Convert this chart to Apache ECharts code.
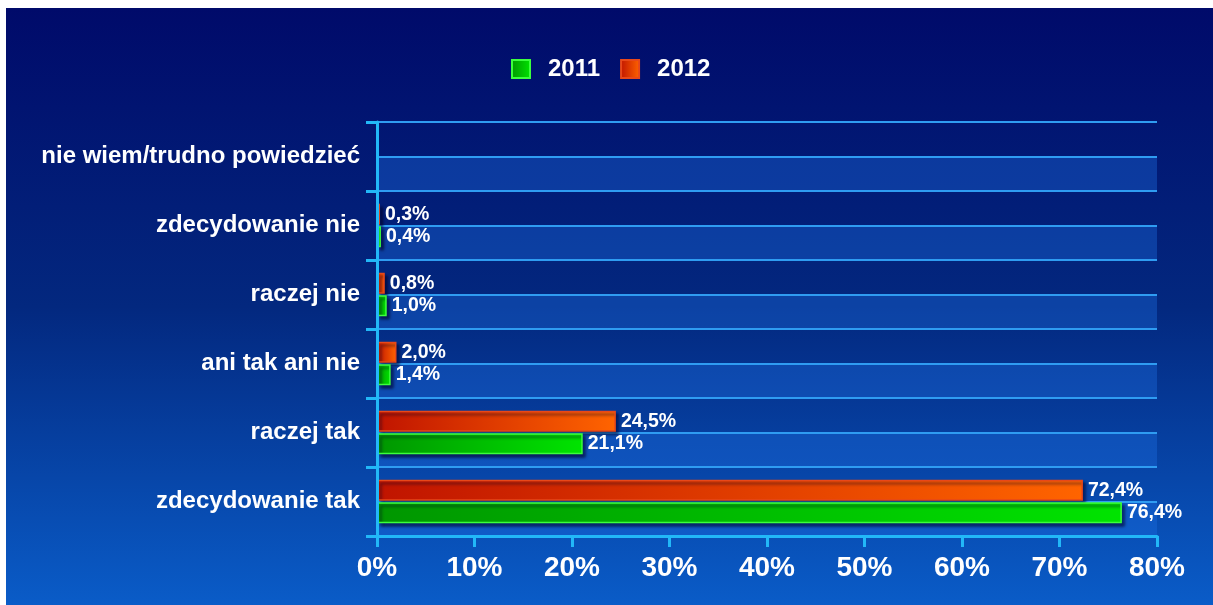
<!DOCTYPE html>
<html>
<head>
<meta charset="utf-8">
<script src="https://cdn.jsdelivr.net/npm/echarts@6/dist/echarts.min.js"></script>
<style>
html,body{margin:0;padding:0;background:#ffffff;}
#chart{width:1213px;height:605px;}
</style>
</head>
<body>
<div id="chart"></div>
<script>
// Data (bottom to top, as drawn on the category axis)
const categories = ['zdecydowanie tak', 'raczej tak', 'ani tak ani nie', 'raczej nie', 'zdecydowanie nie', 'nie wiem/trudno powiedzieć'];
const values2011 = [76.4, 21.1, 1.4, 1.0, 0.4, null];
const values2012 = [72.4, 24.5, 2.0, 0.8, 0.3, null];
const seriesNames = ['2011', '2012'];
const halfBands = ['', '', '', '', '', '', '', '', '', '', '', ''];

const chart = echarts.init(document.getElementById('chart'), null, {renderer: 'canvas'});
const FONT = '"Liberation Sans", Arial, sans-serif';

function lbl(p) {
  if (p.value == null) return '';
  return p.value.toFixed(1).replace('.', ',') + '%';
}

const greenFill = new echarts.graphic.LinearGradient(0, 0, 1, 0, [
  {offset: 0, color: '#009600'}, {offset: 1, color: '#00e400'}
]);
const redFill = new echarts.graphic.LinearGradient(0, 0, 1, 0, [
  {offset: 0, color: '#c01400'}, {offset: 1, color: '#ff6400'}
]);

const labelStyle = {show: true, position: 'right', distance: 5, formatter: lbl,
  color: '#ffffff', fontSize: 19.5, fontWeight: 'bold', fontFamily: FONT};

const option = {
  animation: false,
  graphic: [{
    type: 'rect', z: -10, silent: true,
    shape: {x: 6, y: 8, width: 1207, height: 597},
    style: {
      fill: new echarts.graphic.LinearGradient(0, 0, 0, 1, [
        {offset: 0, color: '#000a6a'},
        {offset: 0.5, color: '#03287f'},
        {offset: 1, color: '#0a5cc8'}
      ])
    }
  }],
  legend: {
    data: seriesNames,
    left: 506, top: 52,
    icon: 'rect',
    itemWidth: 18, itemHeight: 18,
    itemGap: 20,
    textStyle: {color: '#ffffff', fontSize: 24, fontWeight: 'bold', fontFamily: FONT, padding: [0, 0, 0, 13]}
  },
  grid: {left: 377, right: 56, top: 122, bottom: 69, containLabel: false},
  xAxis: {
    type: 'value', min: 0, max: 80, interval: 10,
    axisLine: {show: true, lineStyle: {color: '#22b8f8', width: 3}},
    axisTick: {show: true, length: 11, lineStyle: {color: '#22b8f8', width: 3}},
    splitLine: {show: false},
    axisLabel: {color: '#ffffff', fontSize: 28, fontWeight: 'bold', fontFamily: FONT, margin: 18, formatter: '{value}%'}
  },
  yAxis: [{
    type: 'category', data: categories, boundaryGap: true,
    axisLine: {show: true, lineStyle: {color: '#22b8f8', width: 3}},
    axisTick: {show: true, length: 11, lineStyle: {color: '#22b8f8', width: 3}},
    splitLine: {show: false},
    axisLabel: {color: '#ffffff', fontSize: 24, fontWeight: 'bold', fontFamily: FONT, margin: 17},
    z: 5
  }, {
    type: 'category', data: halfBands, boundaryGap: true, position: 'left',
    axisLine: {show: false}, axisTick: {show: false}, axisLabel: {show: false},
    splitLine: {show: true, lineStyle: {color: '#2f9cf2', width: 2}},
    splitArea: {show: true, areaStyle: {color: ['rgba(30,110,225,0.38)', 'rgba(0,0,0,0)']}}
  }],
  series: [{
    name: seriesNames[1], type: 'bar', yAxisIndex: 0, data: values2012,
    barWidth: 21, barGap: '8%',
    itemStyle: {color: redFill, borderColor: '#e8481a', borderWidth: 1.5,
      shadowColor: 'rgba(0,0,40,0.6)', shadowOffsetX: 3, shadowOffsetY: 3, shadowBlur: 3},
    label: labelStyle
  }, {
    name: seriesNames[0], type: 'bar', yAxisIndex: 0, data: values2011,
    barWidth: 21, barGap: '8%',
    itemStyle: {color: greenFill, borderColor: '#3cff3c', borderWidth: 1.5,
      shadowColor: 'rgba(0,0,40,0.6)', shadowOffsetX: 3, shadowOffsetY: 3, shadowBlur: 3},
    label: labelStyle
  }]
};
chart.setOption(option);
</script>
</body>
</html>
